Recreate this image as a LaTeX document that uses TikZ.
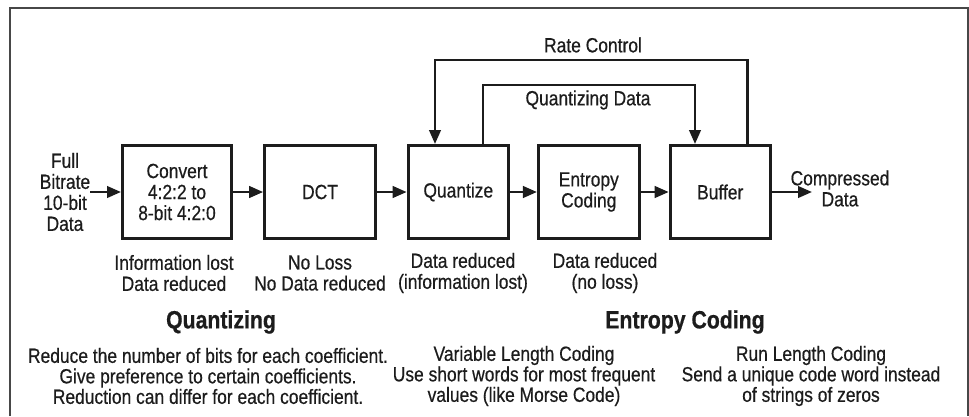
\documentclass[tikz,border=0pt]{standalone}
\usepackage{fontspec}
\setmainfont{Liberation Sans}[FakeStretch=0.85,
  UprightFeatures={FakeBold=0.5},
  BoldFeatures={FakeBold=0.6}]
\usetikzlibrary{arrows.meta}
\definecolor{ink}{HTML}{1C1C1C}
\newcommand\normtxt{\fontsize{20.5}{21}\selectfont}
\newcommand\notetxt{\fontsize{20.5}{20.5}\selectfont}
\newcommand\headtxt{\fontsize{25}{27}\selectfont\bfseries}
\begin{document}
\begin{tikzpicture}[x=1pt,y=-1pt,
  box/.style={draw=ink,line width=3pt,inner sep=0pt,minimum height=93pt,
              align=center,font=\normtxt,text=ink},
  conn/.style={draw=ink,line width=2.6pt,-{Triangle[length=14pt,width=11.5pt]}},
  lbl/.style={inner sep=0pt,align=center,font=\normtxt,text=ink},
  note/.style={inner sep=0pt,align=center,font=\notetxt,text=ink},
  head/.style={inner sep=0pt,font=\headtxt,text=ink},
  frame/.style={draw=black!72,line width=2pt}]
\useasboundingbox (0,0) rectangle (969,416);

% outer frame (open at the bottom)
\draw[frame] (10,416) -- (10,7.5) -- (968,7.5) -- (968,416);

% processing chain
\node[box,minimum width=109pt]   (cv)  at (177,192)   {Convert\\4:2:2 to\\8-bit 4:2:0};
\node[box,minimum width=110.7pt] (dct) at (320,192)   {DCT};
\node[box,minimum width=100.3pt] (qz)  at (458.3,192) {Quantize};
\node[box,minimum width=100.7pt] (ec)  at (588.8,192) {Entropy\\Coding};
\node[box,minimum width=100pt]   (buf) at (720.2,192) {Buffer};

% input / output
\node[lbl] (in)  at (65,192)    {Full\\Bitrate\\10-bit\\Data};
\node[lbl] (out) at (840,188.5) {Compressed\\Data};
\coordinate (outtip) at (812,192);

\draw[conn] (in.east)  -- (cv.west);
\draw[conn] (cv.east)  -- (dct.west);
\draw[conn] (dct.east) -- (qz.west);
\draw[conn] (qz.east)  -- (ec.west);
\draw[conn] (ec.east)  -- (buf.west);
\draw[conn] (buf.east) -- (outtip);

% feedback loops
\coordinate (rcR) at (747.7,60);
\coordinate (rcL) at (435,60);
\coordinate (qdL) at (483,85);
\coordinate (qdR) at (695,85);
\draw[conn] (buf.north -| rcR) -- (rcR) -- (rcL) -- (qz.north -| rcL);
\draw[conn] (qz.north -| qdL) -- (qdL) -- (qdR) -- (buf.north -| qdR);
\node[lbl] (rclab) at (593,45)  {Rate Control};
\node[lbl] (qdlab) at (588,100) {Quantizing Data};

% notes under the blocks
\node[lbl] (cvnote)  at (174,273) {Information lost\\Data reduced};
\node[lbl] (dctnote) at (320,273) {No Loss\\No Data reduced};
\node[lbl] (qznote)  at (463,273) {Data reduced\\(information lost)};
\node[lbl] (ecnote)  at (605,273) {Data reduced\\(no loss)};

% explanations
\node[head] (qhead) at (221,322) {Quantizing};
\node[head] (ehead) at (685,322) {Entropy Coding};
\node[note] (qtext) at (208,376) {Reduce the number of bits for each coefficient.\\Give preference to certain coefficients.\\Reduction can differ for each coefficient.};
\node[note] (vlc)   at (524,376) {Variable Length Coding\\Use short words for most frequent\\values (like Morse Code)};
\node[note] (rlc)   at (811,376) {Run Length Coding\\Send a unique code word instead\\of strings of zeros};
\end{tikzpicture}
\end{document}
